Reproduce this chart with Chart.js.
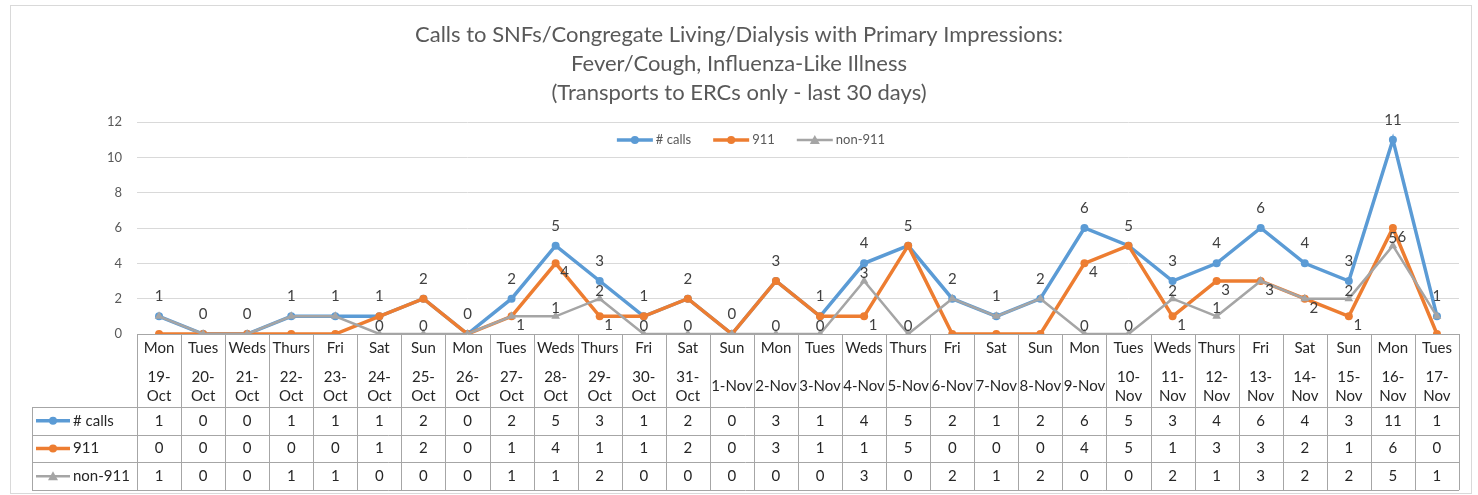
<!DOCTYPE html>
<html>
<head>
<meta charset="utf-8">
<script src="https://cdn.jsdelivr.net/npm/chart.js@4.4.0/dist/chart.umd.min.js"></script>
<style>
  html, body { margin: 0; padding: 0; background: #fff; }
</style>
</head>
<body>
<canvas id="callsChart" width="1478" height="495"></canvas>
<script>
var titleLines = ["Calls to SNFs/Congregate Living/Dialysis with Primary Impressions:",
                  "Fever/Cough, Influenza-Like Illness",
                  "(Transports to ERCs only - last 30 days)"];
var days = ["Mon","Tues","Weds","Thurs","Fri","Sat","Sun","Mon","Tues","Weds","Thurs","Fri","Sat","Sun",
            "Mon","Tues","Weds","Thurs","Fri","Sat","Sun","Mon","Tues","Weds","Thurs","Fri","Sat","Sun","Mon","Tues"];
var dates = ["19-Oct","20-Oct","21-Oct","22-Oct","23-Oct","24-Oct","25-Oct","26-Oct","27-Oct","28-Oct","29-Oct","30-Oct","31-Oct",
             "1-Nov","2-Nov","3-Nov","4-Nov","5-Nov","6-Nov","7-Nov","8-Nov","9-Nov","10-Nov","11-Nov","12-Nov","13-Nov",
             "14-Nov","15-Nov","16-Nov","17-Nov"];
var calls  = [1,0,0,1,1,1,2,0,2,5,3,1,2,0,3,1,4,5,2,1,2,6,5,3,4,6,4,3,11,1];
var nine11 = [0,0,0,0,0,1,2,0,1,4,1,1,2,0,3,1,1,5,0,0,0,4,5,1,3,3,2,1,6,0];
var non911 = [1,0,0,1,1,0,0,0,1,1,2,0,0,0,0,0,3,0,2,1,2,0,0,2,1,3,2,2,5,1];
var yTicks = [0,2,4,6,8,10,12];

var FONT = "Lato, 'Open Sans', sans-serif";
// # calls above, 911 below-right (hidden under the axis), non-911 just above the marker
var labelOffsets = [[0, -20], [9, 9], [0, -8]];

function drawMarker(ctx, style, x, y, color) {
  ctx.fillStyle = color;
  ctx.beginPath();
  if (style === 'triangle') {
    ctx.moveTo(x, y - 5);
    ctx.lineTo(x + 5, y + 4);
    ctx.lineTo(x - 5, y + 4);
    ctx.closePath();
  } else {
    ctx.arc(x, y, 4, 0, Math.PI * 2);
  }
  ctx.fill();
}

function drawKey(ctx, ds, x1, x2, y) {
  ctx.strokeStyle = ds.borderColor;
  ctx.lineWidth = ds.borderWidth;
  ctx.beginPath();
  ctx.moveTo(x1, y);
  ctx.lineTo(x2, y);
  ctx.stroke();
  drawMarker(ctx, ds.pointStyle, (x1 + x2) / 2, y, ds.borderColor);
}

var extrasPlugin = {
  id: 'extras',
  beforeDraw: function (chart) {
    var ctx = chart.ctx;
    ctx.save();
    ctx.strokeStyle = '#d9d9d9';
    ctx.lineWidth = 1;
    ctx.strokeRect(10.5, 5.5, 1461, 488);
    // title
    ctx.fillStyle = '#595959';
    ctx.font = "22px " + FONT;
    ctx.textAlign = 'center';
    ctx.textBaseline = 'middle';
    titleLines.forEach(function (t, i) {
      ctx.fillText(t, chart.width / 2, 35 + i * 29);
    });
    ctx.restore();
  },
  afterDatasetsDraw: function (chart) {
    var ctx = chart.ctx;
    var sets = chart.data.datasets;
    var bottom = chart.chartArea.bottom;
    ctx.save();
    ctx.font = "15px " + FONT;
    ctx.fillStyle = '#404040';
    ctx.textAlign = 'center';
    ctx.textBaseline = 'middle';
    sets.forEach(function (ds, di) {
      var meta = chart.getDatasetMeta(di);
      var off = labelOffsets[di];
      meta.data.forEach(function (pt, i) {
        // same value already labelled by an earlier series: labels overlap, draw once
        for (var k = 0; k < di; k++) {
          if (sets[k].data[i] === ds.data[i]) return;
        }
        var ly = pt.y + off[1];
        if (ly > bottom) return;
        ctx.fillText(String(ds.data[i]), pt.x + off[0], ly);
      });
    });
    ctx.restore();
  },
  afterDraw: function (chart) {
    var ctx = chart.ctx;
    var area = chart.chartArea;
    var xs = chart.scales.x;
    var n = chart.data.labels.length;
    var colW = (area.right - area.left) / n;
    var top = area.bottom;
    var headBottom = top + 73;
    var rowH = 27.7;
    var bottom = headBottom + rowH * 3;
    var keyLeft = 32;
    ctx.save();

    // legend inside plot
    ctx.font = "13px " + FONT;
    ctx.textBaseline = 'middle';
    ctx.textAlign = 'left';
    var items = chart.data.datasets.map(function (ds) {
      return { ds: ds, w: 36 + 3 + ctx.measureText(ds.label).width };
    });
    var total = items.reduce(function (s, it) { return s + it.w; }, 0) + 22 * (items.length - 1);
    var lx = chart.width / 2 + 12 - total / 2;
    var ly = area.top + 18;
    items.forEach(function (it) {
      drawKey(ctx, it.ds, lx, lx + 36, ly);
      ctx.fillStyle = '#595959';
      ctx.fillText(it.ds.label, lx + 39, ly);
      lx += it.w + 22;
    });

    // table grid
    ctx.strokeStyle = '#a6a6a6';
    ctx.lineWidth = 1;
    ctx.beginPath();
    ctx.moveTo(area.left, Math.round(top) + 0.5);
    ctx.lineTo(area.right, Math.round(top) + 0.5);
    for (var r = 0; r <= 3; r++) {
      var yy = Math.round(headBottom + r * rowH) + 0.5;
      ctx.moveTo(keyLeft, yy);
      ctx.lineTo(area.right, yy);
    }
    for (var c = 0; c <= n; c++) {
      var xx = Math.round(area.left + c * colW) + 0.5;
      ctx.moveTo(xx, top);
      ctx.lineTo(xx, bottom);
    }
    ctx.moveTo(keyLeft + 0.5, headBottom);
    ctx.lineTo(keyLeft + 0.5, bottom);
    ctx.stroke();

    // header text
    ctx.font = "15px " + FONT;
    ctx.fillStyle = '#262626';
    ctx.textAlign = 'center';
    for (var i = 0; i < n; i++) {
      var cx = xs.getPixelForValue(i);
      ctx.fillText(days[i], cx, top + 14);
      var d = dates[i];
      if (ctx.measureText(d).width > colW - 1) {
        var parts = d.split('-');
        ctx.fillText(parts[0] + '-', cx, top + 43);
        ctx.fillText(parts[1], cx, top + 62);
      } else {
        ctx.fillText(d, cx, top + 52);
      }
    }

    // rows
    chart.data.datasets.forEach(function (ds, di) {
      var cy = headBottom + rowH * di + rowH / 2;
      drawKey(ctx, ds, 36, 70, cy);
      ctx.fillStyle = '#262626';
      ctx.textAlign = 'left';
      ctx.fillText(ds.label, 73, cy);
      ctx.textAlign = 'center';
      ds.data.forEach(function (v, i) {
        ctx.fillText(String(v), xs.getPixelForValue(i), cy);
      });
    });
    ctx.restore();
  }
};

var ctx = document.getElementById('callsChart');
var myChart = new Chart(ctx, {
  type: 'line',
  data: {
    labels: dates,
    datasets: [{
      label: '# calls',
      data: calls,
      borderColor: '#5b9bd5',
      backgroundColor: '#5b9bd5',
      borderWidth: 3.5,
      pointStyle: 'circle',
      pointRadius: 4,
      pointBorderWidth: 0,
      order: 3
    }, {
      label: '911',
      data: nine11,
      borderColor: '#ed7d31',
      backgroundColor: '#ed7d31',
      borderWidth: 3.5,
      pointStyle: 'circle',
      pointRadius: 4,
      pointBorderWidth: 0,
      order: 2
    }, {
      label: 'non-911',
      data: non911,
      borderColor: '#a5a5a5',
      backgroundColor: '#a5a5a5',
      borderWidth: 2.5,
      pointStyle: 'triangle',
      pointRadius: 5,
      pointBorderWidth: 0,
      order: 1
    }]
  },
  options: {
    responsive: false,
    animation: false,
    layout: { padding: { left: 0, top: 122, right: 19, bottom: 161 } },
    plugins: {
      legend: { display: false },
      title: { display: false },
      tooltip: { enabled: false }
    },
    scales: {
      x: { display: false, offset: true },
      y: {
        min: 0,
        max: 12,
        afterFit: function (scale) { scale.width = 137; },
        afterBuildTicks: function (scale) {
          scale.ticks = yTicks.map(function (v) { return { value: v }; });
        },
        border: { display: false },
        grid: { color: '#d9d9d9', drawTicks: false },
        ticks: { padding: 15, color: '#595959', font: { family: FONT, size: 13 } }
      }
    }
  },
  plugins: [extrasPlugin]
});
</script>
</body>
</html>
